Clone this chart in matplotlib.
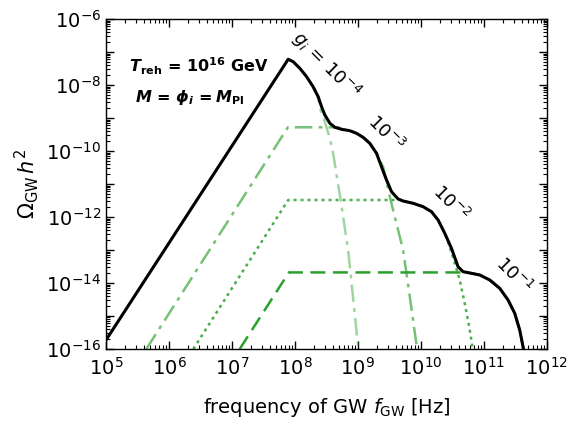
import numpy as np
import matplotlib
matplotlib.use("Agg")
import matplotlib.pyplot as plt
from matplotlib.ticker import LogLocator, FuncFormatter, NullFormatter

plt.rcParams['font.family'] = ['DejaVu Sans']
plt.rcParams['mathtext.fontset'] = 'dejavusans'

# log10(f / Hz), log10(Omega h^2)
# total spectrum (black)
tot_logf = [5.0, 7.894, 7.973, 8.079, 8.186, 8.290, 8.370, 8.424, 8.476, 8.556, 8.635,
            8.741, 8.873, 8.979, 9.084, 9.190, 9.297, 9.376, 9.456, 9.535, 9.640,
            9.719, 9.878, 10.037, 10.170, 10.275, 10.381, 10.487, 10.592, 10.671,
            10.805, 10.937, 11.095, 11.254, 11.386, 11.492, 11.571, 11.624, 11.64]
tot_logo = [-15.73, -7.22, -7.294, -7.494, -7.748, -8.052, -8.355, -8.658, -8.909, -9.161, -9.282,
            -9.342, -9.385, -9.464, -9.585, -9.767, -10.070, -10.476, -10.879, -11.233, -11.455,
            -11.515, -11.585, -11.688, -11.839, -12.091, -12.494, -12.948, -13.506, -13.658,
            -13.706, -13.758, -13.909, -14.161, -14.515, -14.918, -15.424, -15.930, -16.1]

# g_i = 1e-4 component, only its high-frequency drop is visible
g4_logf = [8.290, 8.370, 8.397, 8.476, 8.556, 8.608, 8.730, 8.846, 9.005, 9.02]
g4_logo = [-8.052, -8.355, -8.706, -9.112, -9.615, -10.070, -11.52, -13.0, -15.93, -16.1]

# g_i = 1e-3 component
g3_logf = [5.641, 7.889, 8.70, 8.741, 8.873, 8.979, 9.084, 9.190, 9.297, 9.401,
           9.508, 9.587, 9.719, 9.833, 9.941, 9.95]
g3_logo = [-16.0, -9.282, -9.282, -9.342, -9.385, -9.464, -9.585, -9.767, -10.070, -10.476,
           -11.385, -11.991, -13.0, -14.515, -16.0, -16.1]

# g_i = 1e-2 component
g2_logf = [6.387, 7.894, 9.60, 9.640, 9.719, 9.878, 10.037, 10.170, 10.275, 10.381,
           10.460, 10.540, 10.619, 10.698, 10.778, 10.825, 10.83]
g2_logo = [-16.0, -11.485, -11.485, -11.455, -11.515, -11.585, -11.688, -11.839, -12.091, -12.494,
           -12.9, -13.403, -13.909, -14.615, -15.424, -16.0, -16.1]

# g_i = 1e-1 component
g1_logf = [7.124, 7.905, 10.62, 10.671, 10.805, 10.937, 11.095, 11.254, 11.386, 11.492,
           11.571, 11.624, 11.64]
g1_logo = [-16.0, -13.68, -13.68, -13.658, -13.706, -13.758, -13.909, -14.161, -14.515, -14.918,
           -15.424, -15.930, -16.1]

# curve labels: text, log10 f, log10 Omega of label centre
lab_text = [r'$g_i\,=\,10^{-4}$', r'$10^{-3}$', r'$10^{-2}$', r'$10^{-1}$']
lab_logf = [8.50, 9.44, 10.47, 11.48]
lab_logo = [-7.40, -9.48, -11.58, -13.76]

green = '#2ca02c'

fig = plt.figure(figsize=(5.68, 4.30), dpi=100)
ax = fig.add_axes([0.1866, 0.1884, 0.9625 - 0.1866, 0.9558 - 0.1884])

def p(lf, lo):
    return 10 ** np.array(lf), 10 ** np.array(lo)

ax.plot(*p(g4_logf, g4_logo), color=green, alpha=0.45, lw=1.8, ls=(0, (7, 2.5, 1.5, 2.5)))
ax.plot(*p(g3_logf, g3_logo), color=green, alpha=0.65, lw=1.8, ls=(0, (7, 2.5, 1.5, 2.5)))
ax.plot(*p(g2_logf, g2_logo), color=green, alpha=0.85, lw=1.8, ls=(0, (1.2, 1.6)))
ax.plot(*p(g1_logf, g1_logo), color=green, alpha=1.0, lw=1.8, ls=(0, (6, 3)))
ax.plot(*p(tot_logf, tot_logo), color='black', lw=2.2)

ax.set_xscale('log')
ax.set_yscale('log')
ax.set_xlim(1e5, 1e12)
ax.set_ylim(1e-16, 1e-6)

ax.xaxis.set_major_locator(LogLocator(base=10, numticks=20))
ax.xaxis.set_minor_locator(LogLocator(base=10, subs=np.arange(2, 10), numticks=20))
ax.yaxis.set_major_locator(LogLocator(base=10, numticks=20))
ax.yaxis.set_minor_locator(LogLocator(base=10, subs=np.arange(2, 10), numticks=20))
ax.xaxis.set_minor_formatter(NullFormatter())
ax.yaxis.set_minor_formatter(NullFormatter())


def yfmt(v, pos):
    e = int(round(np.log10(v)))
    if e % 2:
        return ''
    return r'$10^{%d}$' % e


ax.yaxis.set_major_formatter(FuncFormatter(yfmt))
ax.tick_params(which='both', direction='in', top=True, right=True, labelsize=14)
ax.tick_params(which='major', length=5.5, width=1)
ax.tick_params(which='minor', length=3, width=0.8)
ax.tick_params(axis='x', pad=6)
for s in ax.spines.values():
    s.set_linewidth(1.0)

ax.set_xlabel(r'frequency of GW $f_{\rm GW}$ [Hz]', fontsize=14, labelpad=12)
ax.set_ylabel(r'$\Omega_{\rm GW}\,h^2$', fontsize=15, labelpad=4)

ax.text(0.052, 0.84, r'$\boldsymbol{T}_{\mathbf{reh}}\,\mathbf{=\,10^{16}\ GeV}$',
        transform=ax.transAxes, fontsize=11.5)
ax.text(0.065, 0.75, r'$\boldsymbol{M}\,\mathbf{=}\,\boldsymbol{\phi}_{\boldsymbol{i}}\,\mathbf{=}\boldsymbol{M}_{\mathbf{Pl}}$',
        transform=ax.transAxes, fontsize=11.5)

for t, lf, lo in zip(lab_text, lab_logf, lab_logo):
    ax.text(10 ** lf, 10 ** lo, t, fontsize=13, rotation=-45, ha='center', va='center',
            rotation_mode='anchor')

fig.savefig('out.png', dpi=100)
